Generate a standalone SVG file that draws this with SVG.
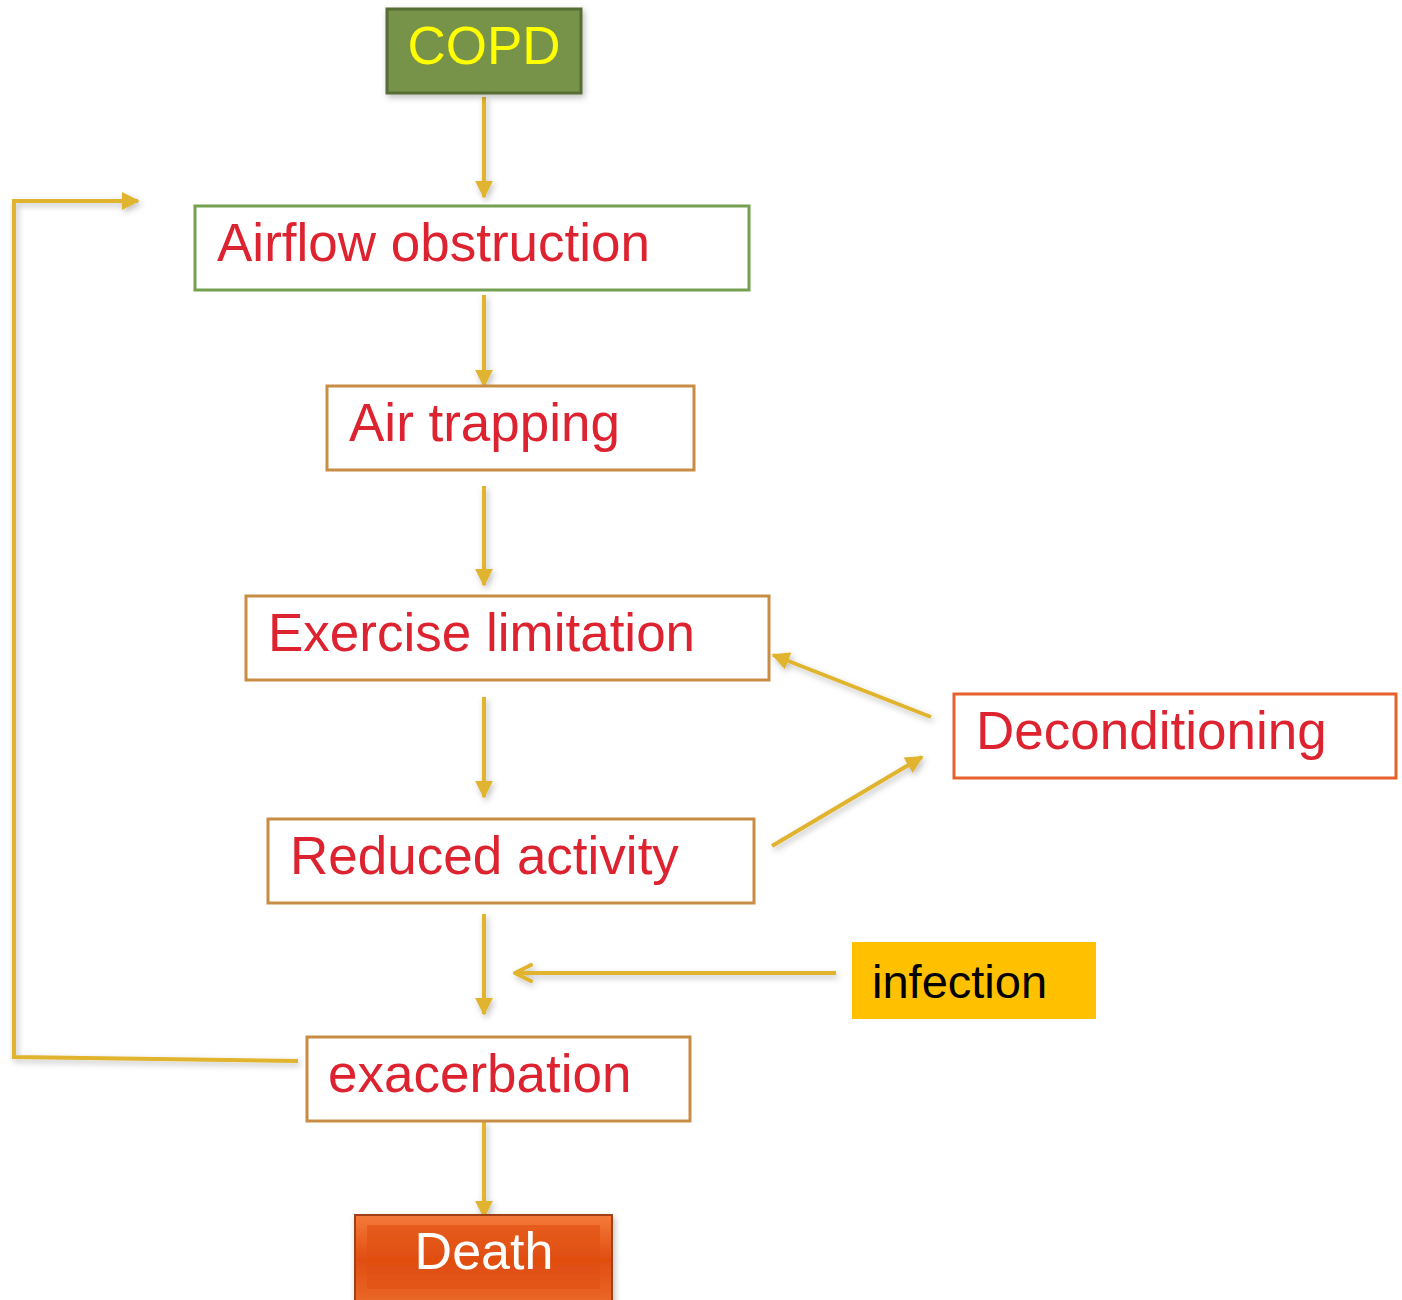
<svg xmlns="http://www.w3.org/2000/svg" width="1402" height="1300" viewBox="0 0 1402 1300">
<style>
.box{fill:#fff;stroke-width:3}
.t{font-family:"Liberation Sans",Arial,sans-serif;font-size:53px;fill:#DD2230}
.c{fill:none;stroke:#E0B42E;stroke-width:4}
</style>
<defs>
<marker id="ah" viewBox="0 0 10 10" refX="9" refY="5" markerWidth="4.5" markerHeight="4.5" orient="auto" markerUnits="strokeWidth">
<path d="M0,0 L10,5 L0,10 z" fill="#E0B42E"/>
</marker>
<marker id="oh" viewBox="0 0 10 10" refX="9" refY="5" markerWidth="5" markerHeight="5" orient="auto" markerUnits="strokeWidth">
<path d="M1,1 L9,5 L1,9" fill="none" stroke="#E0B42E" stroke-width="2" stroke-linecap="round" stroke-linejoin="round"/>
</marker>
<filter id="sh" x="-20%" y="-20%" width="140%" height="140%">
<feDropShadow dx="2" dy="3" stdDeviation="3" flood-color="#000" flood-opacity="0.25"/>
</filter>
<linearGradient id="dg" x1="0" y1="0" x2="0" y2="1">
<stop offset="0" stop-color="#F57A3A"/>
<stop offset="0.5" stop-color="#E04E10"/>
<stop offset="1" stop-color="#EA6A2A"/>
</linearGradient>
</defs>
<g id="connectors" filter="url(#sh)">
<line class="c" x1="484" y1="97" x2="484" y2="197" marker-end="url(#ah)"/>
<line class="c" x1="484" y1="295" x2="484" y2="386" marker-end="url(#ah)"/>
<line class="c" x1="484" y1="486" x2="484" y2="585" marker-end="url(#ah)"/>
<line class="c" x1="484" y1="697" x2="484" y2="797" marker-end="url(#ah)"/>
<line class="c" x1="484" y1="914" x2="484" y2="1014" marker-end="url(#ah)"/>
<line class="c" x1="484" y1="1121" x2="484" y2="1217" marker-end="url(#ah)"/>
<line class="c" x1="931" y1="717" x2="773" y2="655" marker-end="url(#ah)"/>
<line class="c" x1="772" y1="846" x2="922" y2="757" marker-end="url(#ah)"/>
<line class="c" x1="836" y1="973" x2="515" y2="973" marker-end="url(#oh)"/>
<polyline class="c" points="298,1061 14,1057 14,201 138,201" marker-end="url(#ah)"/>
</g>
<g id="copd" filter="url(#sh)">
<rect x="387" y="9" width="194" height="84" fill="#77934A" stroke="#566D35" stroke-width="3"/>
<text x="484" y="64" text-anchor="middle" font-family="'Liberation Sans',Arial,sans-serif" font-size="53" fill="#FFFF00">COPD</text>
</g>
<g id="airflow">
<rect class="box" x="195" y="206" width="554" height="84" stroke="#74A050"/>
<text class="t" x="217" y="261">Airflow obstruction</text>
</g>
<g id="airtrapping">
<rect class="box" x="327" y="386" width="367" height="84" stroke="#C98C44"/>
<text class="t" x="349" y="441">Air trapping</text>
</g>
<g id="exercise">
<rect class="box" x="246" y="596" width="523" height="84" stroke="#C98C44"/>
<text class="t" x="268" y="651">Exercise limitation</text>
</g>
<g id="deconditioning">
<rect class="box" x="954" y="694" width="442" height="84" stroke="#E8602C"/>
<text class="t" x="976" y="749">Deconditioning</text>
</g>
<g id="reduced">
<rect class="box" x="268" y="819" width="486" height="84" stroke="#C98C44"/>
<text class="t" x="290" y="874">Reduced activity</text>
</g>
<g id="infection">
<rect x="852" y="942" width="244" height="77" fill="#FFC000"/>
<text x="872" y="998" font-family="'Liberation Sans',Arial,sans-serif" font-size="47" fill="#000">infection</text>
</g>
<g id="exacerbation">
<rect class="box" x="307" y="1037" width="383" height="84" stroke="#C98C44"/>
<text class="t" x="328" y="1092">exacerbation</text>
</g>
<g id="death" filter="url(#sh)">
<rect x="355" y="1215" width="257" height="90" fill="url(#dg)" stroke="#A04018" stroke-width="2"/>
<rect x="367" y="1225" width="233" height="64" fill="#E04E10" opacity="0.6"/>
<text x="484" y="1269" text-anchor="middle" font-family="'Liberation Sans',Arial,sans-serif" font-size="52" fill="#fff">Death</text>
</g>
</svg>
